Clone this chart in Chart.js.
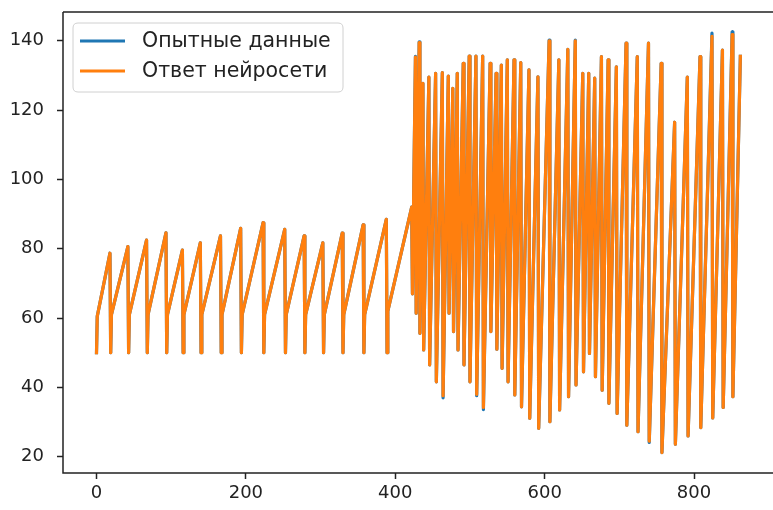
<!DOCTYPE html>
<html>
<head>
<meta charset="utf-8">
<script src="https://cdn.jsdelivr.net/npm/chart.js@4"></script>
<style>
  html, body { margin: 0; padding: 0; background: #fff; overflow: hidden; }
  #wrap { width: 773px; height: 510px; position: relative; }
</style>
</head>
<body>
<div id="wrap"><canvas id="chart" width="773" height="510"></canvas></div>
<script>
// series names (legend)
var seriesNames = ['Опытные данные', 'Ответ нейросети'];
var xTickVals = [0, 200, 400, 600, 800];
var yTickVals = [20, 40, 60, 80, 100, 120, 140];

// vertices (sample index)
var pointX = [
    0, 1, 18, 19, 20, 42, 43, 44, 67, 68, 69, 93, 94, 95, 115, 116, 117, 139,
    140, 141, 166, 167, 168, 193, 194, 195, 223, 224, 225, 252, 253, 254, 278,
    279, 280, 303, 304, 305, 329, 330, 331, 357, 358, 359, 388, 389, 390, 422,
    423, 427, 428, 432, 433, 437, 438, 445, 446, 454, 455, 463, 464, 471, 472,
    477, 478, 483, 484, 491, 492, 499, 500, 508, 509, 517, 518, 527, 528, 535,
    536, 542, 543, 550, 551, 559, 560, 568, 569, 579, 580, 591, 592, 606, 607,
    619, 620, 631, 632, 641, 642, 651, 652, 659, 660, 667, 668, 676, 677, 685,
    686, 696, 697, 709, 710, 724, 725, 739, 740, 756, 757, 774, 775, 791, 792,
    808, 809, 824, 825, 838, 839, 851, 852, 862
];

// experimental data
var expY = [
    50, 60.5, 78.7, 50, 61, 80.6, 50, 61, 82.5, 50, 61, 84.6, 50, 61, 79.6, 50, 61, 81.7,
    50, 61, 83.7, 50, 61, 85.9, 50, 61, 87.5, 50, 61, 85.6, 50, 61, 83.7,
    50, 61, 81.7, 50, 61, 84.5, 50, 61, 86.9, 50, 61, 88.5, 50, 62, 92,
    67, 135.5, 61.4, 139.7, 55.6, 127.7, 50.8, 129.5, 46.5, 130.6, 41.6, 130.8, 37, 129.8, 61.4,
    126.3, 56.1, 130.6, 50.8, 133.5, 46.5, 135.6, 41.6, 135.6, 37.6, 135.6, 33.6, 133.5, 56.1, 130.6,
    51, 133, 45.5, 134.5, 41.6, 134.5, 37.8, 133.7, 34.4, 131.6, 31.1, 129.6, 28.2, 140.2, 30.1,
    134.5, 33.5, 137.5, 37.3, 140.2, 40.7, 130.6, 44.5, 130.6, 49.8, 129.2, 43.1, 135.4, 39.2, 134.5,
    35.4, 132.5, 32.5, 139.3, 29.1, 135.4, 27.2, 139.3, 24.1, 133.5, 21.2, 116.5, 23.6, 129.5, 26,
    135.4, 28.4, 142.2, 31.2, 137.3, 34.2, 142.6, 37.3, 135.5
];

// network output
var netY = [
    50, 60.5, 78.7, 50, 61, 80.6, 50, 61, 82.5, 50, 61, 84.6, 50, 61, 79.6, 50, 61, 81.7,
    50, 61, 83.7, 50, 61, 85.9, 50, 61, 87.5, 50, 61, 85.6, 50, 61, 83.7,
    50, 61, 81.7, 50, 61, 84.5, 50, 61, 86.9, 50, 61, 88.5, 50, 62, 92,
    67, 135.3, 61.4, 139.5, 55.6, 127.7, 50.8, 129.5, 46.5, 130.6, 41.6, 130.8, 37.6, 129.8, 61.4,
    126.3, 56.1, 130.6, 50.8, 133.5, 46.5, 135.6, 41.6, 135.6, 38, 135.6, 34.2, 133.5, 56.1, 130.6,
    51, 133, 45.5, 134.5, 41.6, 134.5, 37.8, 133.7, 34.4, 131.6, 31.1, 129.6, 28.2, 140, 30.1,
    134.5, 33.5, 137.5, 37.3, 140, 40.7, 130.6, 44.5, 130.6, 49.8, 129.2, 43.1, 135.4, 39.2, 134.5,
    35.4, 132.5, 32.5, 139.3, 29.1, 135.4, 27.2, 139.3, 24.5, 133.5, 21.2, 116.5, 23.6, 129.5, 26,
    135.4, 28.4, 141.3, 31.2, 137.3, 34.2, 141.8, 37.3, 135.5
];

var colors = ['#1f77b4', '#ff7f0e'];

function toPoints(xs, ys){
    var pts = [];
    for(var i = 0; i < xs.length; i++){
        pts.push({x: xs[i], y: ys[i]});
    }
    return pts;
}

// spines + matplotlib-like legend box
var framePlugin = {
    id: 'frame',
    afterDraw: function(chart){
        var ctx = chart.ctx;
        var a = chart.chartArea;
        ctx.save();
        ctx.strokeStyle = '#222';
        ctx.lineWidth = 1.5;
        ctx.beginPath();
        ctx.moveTo(a.left, a.top);
        ctx.lineTo(a.right, a.top);
        ctx.moveTo(a.left, a.top);
        ctx.lineTo(a.left, a.bottom);
        ctx.lineTo(a.right, a.bottom);
        ctx.stroke();

        // legend
        var bx = 73, by = 23, bw = 270, bh = 69, r = 5;
        ctx.beginPath();
        ctx.moveTo(bx + r, by);
        ctx.lineTo(bx + bw - r, by);
        ctx.quadraticCurveTo(bx + bw, by, bx + bw, by + r);
        ctx.lineTo(bx + bw, by + bh - r);
        ctx.quadraticCurveTo(bx + bw, by + bh, bx + bw - r, by + bh);
        ctx.lineTo(bx + r, by + bh);
        ctx.quadraticCurveTo(bx, by + bh, bx, by + bh - r);
        ctx.lineTo(bx, by + r);
        ctx.quadraticCurveTo(bx, by, bx + r, by);
        ctx.closePath();
        ctx.fillStyle = 'rgba(255,255,255,0.8)';
        ctx.fill();
        ctx.strokeStyle = '#d0d0d0';
        ctx.lineWidth = 1;
        ctx.stroke();

        var rows = [41, 71];
        ctx.font = '20.5px "DejaVu Sans"';
        ctx.textBaseline = 'middle';
        ctx.textAlign = 'left';
        for(var i = 0; i < seriesNames.length; i++){
            ctx.strokeStyle = colors[i];
            ctx.lineWidth = 3;
            ctx.beginPath();
            ctx.moveTo(80, rows[i]);
            ctx.lineTo(125, rows[i]);
            ctx.stroke();
            ctx.fillStyle = '#222';
            ctx.fillText(seriesNames[i], 142, rows[i] + 1);
        }
        ctx.restore();
    }
};

var myChart = new Chart(document.getElementById('chart'), {
    type: 'line',
    data: {
        datasets: [{
            label: seriesNames[0],
            data: toPoints(pointX, expY),
            borderColor: colors[0],
            borderWidth: 3.2,
            borderJoinStyle: 'round',
            borderCapStyle: 'square',
            pointRadius: 0,
            tension: 0,
            order: 1
        }, {
            label: seriesNames[1],
            data: toPoints(pointX, netY),
            borderColor: colors[1],
            borderWidth: 3.2,
            borderJoinStyle: 'round',
            borderCapStyle: 'square',
            pointRadius: 0,
            tension: 0,
            order: 0
        }]
    },
    options: {
        responsive: false,
        animation: false,
        events: [],
        layout: { padding: { top: 12, right: 0, left: 0, bottom: 0 } },
        plugins: {
            legend: { display: false },
            tooltip: { enabled: false }
        },
        scales: {
            x: {
                type: 'linear',
                min: -44.85,
                max: 905.7,
                afterBuildTicks: function(scale){
                    scale.ticks = xTickVals.map(function(v){ return {value: v}; });
                },
                afterFit: function(scale){
                    scale.height = 37;
                    scale.paddingLeft = 0;
                    scale.paddingRight = 0;
                },
                grid: { drawOnChartArea: false, drawTicks: true, tickLength: 6, tickColor: '#222', tickWidth: 1.5 },
                border: { display: false },
                ticks: {
                    padding: 4,
                    maxRotation: 0,
                    color: '#222',
                    font: { family: 'DejaVu Sans', size: 18 }
                }
            },
            y: {
                min: 15.3,
                max: 148.3,
                afterBuildTicks: function(scale){
                    scale.ticks = yTickVals.map(function(v){ return {value: v}; });
                },
                afterFit: function(scale){
                    scale.width = 63;
                    scale.paddingTop = 0;
                    scale.paddingBottom = 0;
                },
                grid: { drawOnChartArea: false, drawTicks: true, tickLength: 6, tickColor: '#222', tickWidth: 1.5 },
                border: { display: false },
                ticks: {
                    padding: 13,
                    color: '#222',
                    font: { family: 'DejaVu Sans', size: 18 }
                }
            }
        }
    },
    plugins: [framePlugin]
});
</script>
</body>
</html>
